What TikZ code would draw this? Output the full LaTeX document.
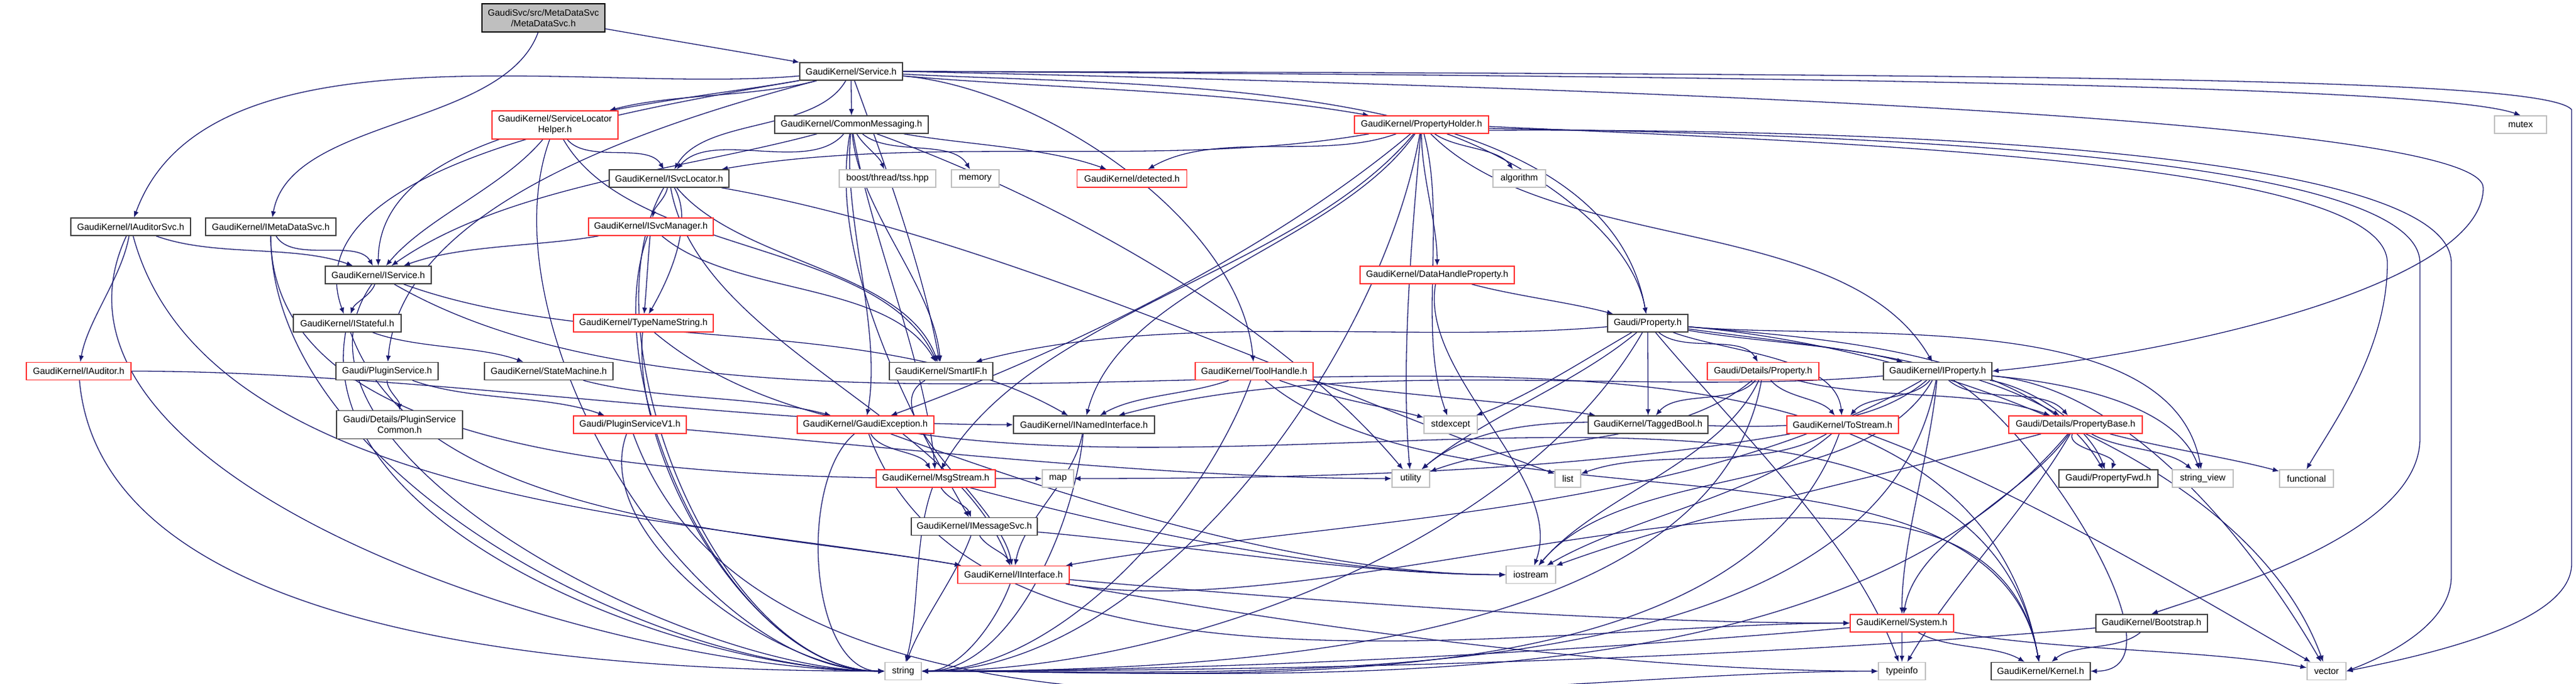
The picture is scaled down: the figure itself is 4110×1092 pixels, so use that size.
\documentclass[tikz,border=0pt]{standalone}
\usepackage{fontspec}
\setmainfont{Liberation Sans}
\usetikzlibrary{arrows.meta,backgrounds}

\definecolor{edgeblue}{RGB}{25,25,112}
\definecolor{boxgray}{RGB}{64,64,64}
\definecolor{boxred}{RGB}{255,48,48}
\definecolor{sysgray}{RGB}{191,191,191}

\tikzset{
    box/.style={draw, fill=white, line width=0.3pt, inner sep=0pt,
        minimum height=5.6pt, align=center,
        font=\fontsize{2.9}{3.44}\selectfont},
    hdr/.style={box, draw=boxgray},
    redhdr/.style={box, draw=boxred},
    sys/.style={box, draw=sysgray},
    mainfile/.style={box, draw=black, fill=sysgray, minimum height=9pt},
    twoline/.style={minimum height=9pt},
    dep/.style={draw=edgeblue, line width=0.26pt,
        -{Latex[length=2pt,width=1.6pt]}, looseness=0.8},
}

\begin{document}
\begin{tikzpicture}[x=0.2pt,y=0.2pt]
    \useasboundingbox (0,0) rectangle (4110,-1092);

    % file and its headers
    \node[mainfile, minimum width=39.2pt] (top) at (867,-28.5) {GaudiSvc/src/MetaDataSvc\\/MetaDataSvc.h};
    \node[hdr, minimum width=32.8pt] (svc) at (1358,-114) {GaudiKernel/Service.h};
    \node[redhdr, twoline, minimum width=40.2pt] (slh) at (885.5,-199.5) {GaudiKernel/ServiceLocator\\Helper.h};
    \node[hdr, minimum width=49pt] (commsg) at (1358.5,-199) {GaudiKernel/CommonMessaging.h};
    \node[redhdr, minimum width=42.8pt] (propholder) at (2268,-199) {GaudiKernel/PropertyHolder.h};
    \node[sys, minimum width=16.6pt] (mutex) at (4021.5,-199) {mutex};

    \node[hdr, minimum width=38.2pt] (isvcloc) at (1067.5,-285) {GaudiKernel/ISvcLocator.h};
    \node[sys, minimum width=30.8pt] (boosttss) at (1416,-285) {boost/thread/tss.hpp};
    \node[sys, minimum width=15.2pt] (memory) at (1556,-285) {memory};
    \node[redhdr, minimum width=35pt] (detected) at (1806,-285) {GaudiKernel/detected.h};
    \node[sys, minimum width=16.8pt] (algorithm) at (2424,-285) {algorithm};

    \node[hdr, minimum width=38.2pt] (iaudsvc) at (208.5,-362) {GaudiKernel/IAuditorSvc.h};
    \node[hdr, minimum width=41.6pt] (imds) at (432,-362) {GaudiKernel/IMetaDataSvc.h};
    \node[redhdr, minimum width=39.8pt] (isvcmgr) at (1038.5,-362) {GaudiKernel/ISvcManager.h};

    \node[hdr, minimum width=33.8pt] (iservice) at (603.5,-439) {GaudiKernel/IService.h};
    \node[redhdr, minimum width=49.2pt] (dhprop) at (2293,-439) {GaudiKernel/DataHandleProperty.h};

    \node[hdr, minimum width=34.4pt] (istateful) at (554,-516) {GaudiKernel/IStateful.h};
    \node[redhdr, minimum width=44.6pt] (typename) at (1026.5,-516) {GaudiKernel/TypeNameString.h};
    \node[hdr, minimum width=25.6pt] (property) at (2629,-516) {Gaudi/Property.h};

    \node[redhdr, minimum width=33.4pt] (iauditor) at (125.5,-592.5) {GaudiKernel/IAuditor.h};
    \node[hdr, minimum width=32.6pt] (plugsvc) at (617.5,-592.5) {Gaudi/PluginService.h};
    \node[hdr, minimum width=41pt] (statemach) at (875.5,-592.5) {GaudiKernel/StateMachine.h};
    \node[hdr, minimum width=33pt] (smartif) at (1501.5,-592.5) {GaudiKernel/SmartIF.h};
    \node[redhdr, minimum width=37.6pt] (toolhandle) at (2001,-592.5) {GaudiKernel/ToolHandle.h};
    \node[redhdr, minimum width=35.6pt] (detprop) at (2813,-592.5) {Gaudi/Details/Property.h};
    \node[hdr, minimum width=34.6pt] (iproperty) at (3091.5,-592.5) {GaudiKernel/IProperty.h};

    \node[hdr, twoline, minimum width=40.2pt] (plugcommon) at (637.5,-678) {Gaudi/Details/PluginService\\Common.h};
    \node[redhdr, minimum width=36pt] (plugv1) at (1005,-678) {Gaudi/PluginServiceV1.h};
    \node[redhdr, minimum width=43.6pt] (gexc) at (1380.75,-678) {GaudiKernel/GaudiException.h};
    \node[hdr, minimum width=45pt] (inamed) at (1729.5,-678) {GaudiKernel/INamedInterface.h};
    \node[sys, minimum width=17pt] (stdexcept) at (2314.5,-678) {stdexcept};
    \node[hdr, minimum width=38.2pt] (taggedbool) at (2629.5,-678) {GaudiKernel/TaggedBool.h};
    \node[redhdr, minimum width=35.6pt] (tostream) at (2939.75,-678) {GaudiKernel/ToStream.h};
    \node[redhdr, minimum width=42.6pt] (propbase) at (3311.5,-678) {Gaudi/Details/PropertyBase.h};

    \node[redhdr, minimum width=38pt] (msgstream) at (1493,-764) {GaudiKernel/MsgStream.h};
    \node[sys, minimum width=10pt] (map) at (1688,-764) {map};
    \node[sys, minimum width=12pt] (utility) at (2250.75,-764) {utility};
    \node[sys, minimum width=8.2pt] (list) at (2501.5,-764) {list};
    \node[hdr, minimum width=31.6pt] (propfwd) at (3363.75,-764) {Gaudi/PropertyFwd.h};
    \node[sys, minimum width=19.4pt] (stringview) at (3514.5,-764) {string\_view};
    \node[sys, minimum width=17.2pt] (functional) at (3680,-764) {functional};

    \node[hdr, minimum width=40.2pt] (imsgsvc) at (1554.5,-840.5) {GaudiKernel/IMessageSvc.h};
    \node[redhdr, minimum width=35.6pt] (iinterface) at (1617,-917.5) {GaudiKernel/IInterface.h};
    \node[sys, minimum width=15.8pt] (iostream) at (2442.5,-917.5) {iostream};

    \node[redhdr, minimum width=33pt] (system) at (3034.5,-994.75) {GaudiKernel/System.h};
    \node[hdr, minimum width=35.6pt] (bootstrap) at (3432.75,-994.75) {GaudiKernel/Bootstrap.h};

    \node[sys, minimum width=11.6pt] (string) at (1441,-1071.5) {string};
    \node[sys, minimum width=15pt] (typeinfo) at (3034.5,-1071.5) {typeinfo};
    \node[hdr, minimum width=31.6pt] (kernel) at (3255.75,-1071.5) {GaudiKernel/Kernel.h};
    \node[sys, minimum width=12.4pt] (vector) at (3712,-1071.5) {vector};

    \begin{scope}[on background layer]
    % includes of the file itself
    \draw[dep] (top) to[out=-10,in=170] (svc);
    \draw[dep] (top) to[out=-110,in=80] (imds);

    % Service.h
    \foreach \t/\o/\i in {iaudsvc/185/70, iservice/190/90, istateful/190/110,
        plugsvc/195/85, slh/-165/15, isvcloc/-120/60, commsg/-90/90,
        smartif/-70/100, propholder/-5/170, toolhandle/-5/95, property/-3/100}
        \draw[dep] (svc) to[out=\o,in=\i] (\t);
    \draw[dep] (svc.east) .. controls (2600,-140) and (3962,-190) .. (3962,-300)
        .. controls (3962,-450) and (3500,-560) .. (iproperty.east);
    \draw[dep] (svc.east) .. controls (3000,-122) and (3900,-140) .. (mutex.north);
    \draw[dep] (svc.east) .. controls (3300,-118) and (4060,-125) .. (4103,-175)
        -- (4103,-900) .. controls (4103,-990) and (3900,-1040) .. (vector.east);

    % interfaces
    \foreach \t/\o/\i in {iservice/-60/120, map/-90/180, string/-90/180}
        \draw[dep] (imds) to[out=\o,in=\i] (\t);
    \foreach \t/\o/\i in {iauditor/-100/80, iservice/-20/160, string/-115/180, iinterface/-75/170}
        \draw[dep] (iaudsvc) to[out=\o,in=\i] (\t);
    \foreach \t/\o/\i in {inamed/0/180, string/-85/180}
        \draw[dep] (iauditor) to[out=\o,in=\i] (\t);
    \foreach \t/\o/\i in {istateful/-110/70, inamed/-20/150, string/-125/180, kernel/-30/100}
        \draw[dep] (iservice) to[out=\o,in=\i] (\t);
    \foreach \t/\o/\i in {statemach/-20/160, iinterface/-70/170, string/-100/180}
        \draw[dep] (istateful) to[out=\o,in=\i] (\t);

    % plugin service
    \foreach \t/\o/\i in {plugcommon/-90/90, plugv1/-20/160}
        \draw[dep] (plugsvc) to[out=\o,in=\i] (\t);
    \foreach \t/\o/\i in {string/-110/180, utility/-5/180, typeinfo/-70/180}
        \draw[dep] (plugv1) to[out=\o,in=\i] (\t);
    \draw[dep] (statemach) to[out=-15,in=165] (gexc);

    % locator and messaging
    \foreach \t/\o/\i in {iservice/-130/50, isvcloc/-50/120, smartif/-60/115, string/-110/180}
        \draw[dep] (slh) to[out=\o,in=\i] (\t);
    \foreach \t/\o/\i in {iservice/-165/35, isvcloc/-130/50, boosttss/-60/110,
        memory/-40/120, detected/-10/160, smartif/-85/95, msgstream/-80/95,
        imsgsvc/-100/120, gexc/-95/80, utility/-20/130}
        \draw[dep] (commsg) to[out=\o,in=\i] (\t);
    \foreach \t/\o/\i in {isvcmgr/-100/80, typename/-60/60, smartif/-50/110,
        iinterface/-80/110, list/-10/160, string/-120/180}
        \draw[dep] (isvcloc) to[out=\o,in=\i] (\t);
    \foreach \t/\o/\i in {iservice/-170/20, typename/-95/85, smartif/-40/120, string/-110/180}
        \draw[dep] (isvcmgr) to[out=\o,in=\i] (\t);
    \foreach \t/\o/\i in {string/-95/180, kernel/-40/100}
        \draw[dep] (typename) to[out=\o,in=\i] (\t);
    \draw[dep] (smartif) to[out=-150,in=100] (iinterface);
    \foreach \t/\o/\i in {msgstream/-60/120, string/-140/180, system/-70/180, iostream/-20/180}
        \draw[dep] (gexc) to[out=\o,in=\i] (\t);
    \foreach \t/\o/\i in {imsgsvc/-60/110, string/-110/75, iostream/-15/180}
        \draw[dep] (msgstream) to[out=\o,in=\i] (\t);
    \foreach \t/\o/\i in {iinterface/-60/110, string/-110/70, iostream/-5/180}
        \draw[dep] (imsgsvc) to[out=\o,in=\i] (\t);
    \foreach \t/\o/\i in {string/-110/0, kernel/-10/100, system/-5/180, typeinfo/-10/180}
        \draw[dep] (iinterface) to[out=\o,in=\i] (\t);
    \foreach \t/\o/\i in {iinterface/-100/80, string/-95/0}
        \draw[dep] (inamed) to[out=\o,in=\i] (\t);
    \foreach \t/\o/\i in {inamed/-160/30, stdexcept/-20/165, taggedbool/-10/170,
        string/-110/0, kernel/-40/100}
        \draw[dep] (toolhandle) to[out=\o,in=\i] (\t);

    % property holder
    \foreach \t/\o/\i in {isvcloc/190/10, detected/-160/30, algorithm/-35/125,
        dhprop/-90/90, property/-20/100, iproperty/-45/120, gexc/-140/20,
        msgstream/-130/60, inamed/-125/75, string/-100/0, utility/-95/95,
        stdexcept/-75/110}
        \draw[dep] (propholder) to[out=\o,in=\i] (\t);
    \draw[dep] ([yshift=-0.6pt]propholder.east) .. controls (3000,-230) and (3809,-260) .. (3809,-420)
        .. controls (3809,-560) and (3720,-680) .. (functional.north);
    \draw[dep] ([yshift=-1.2pt]propholder.east) .. controls (3000,-215) and (3861,-250) .. (3861,-420)
        -- (3861,-700) .. controls (3861,-850) and (3550,-940) .. (bootstrap.north);
    \draw[dep] ([yshift=-1.8pt]propholder.east) .. controls (3000,-205) and (3911,-240) .. (3911,-420)
        -- (3911,-920) .. controls (3911,-1000) and (3800,-1050) .. (vector.east);
    \foreach \t/\o/\i in {property/-15/165, iostream/-100/70}
        \draw[dep] (dhprop) to[out=\o,in=\i] (\t);

    % properties
    \foreach \t/\o/\i in {smartif/185/15, taggedbool/-90/90, detprop/-40/120,
        tostream/-20/95, iproperty/-10/165, propbase/-8/150, propfwd/-5/120,
        stringview/-5/100, vector/-5/110, string/-120/0, utility/-140/40,
        stdexcept/-150/20, typeinfo/-50/110}
        \draw[dep] (property) to[out=\o,in=\i] (\t);
    \foreach \t/\o/\i in {taggedbool/-130/50, tostream/-50/130, propbase/-15/160,
        string/-100/0, utility/-140/20, iostream/-115/50}
        \draw[dep] (detprop) to[out=\o,in=\i] (\t);
    \foreach \t/\o/\i in {inamed/185/15, tostream/-130/50, propbase/-40/130,
        propfwd/-10/110, iinterface/-150/10, utility/-140/40, string/-100/0,
        iostream/-120/50, system/-95/90, vector/-5/120, kernel/-30/0,
        stringview/-5/110}
        \draw[dep] (iproperty) to[out=\o,in=\i] (\t);
    \foreach \t/\o/\i in {map/-170/0, list/-150/20, iostream/-140/30,
        string/-110/0, vector/-20/150}
        \draw[dep] (tostream) to[out=\o,in=\i] (\t);
    \foreach \t/\o/\i in {propfwd/-110/70, stringview/-30/140, functional/-15/165,
        iostream/-165/20, string/-130/0, typeinfo/-120/60, system/-125/80}
        \draw[dep] (propbase) to[out=\o,in=\i] (\t);

    % system level
    \foreach \t/\o/\i in {typeinfo/-90/90, kernel/-30/150, string/-175/0, vector/-10/170}
        \draw[dep] (system) to[out=\o,in=\i] (\t);
    \foreach \t/\o/\i in {kernel/-140/40, string/185/0}
        \draw[dep] (bootstrap) to[out=\o,in=\i] (\t);
    \end{scope}
\end{tikzpicture}
\end{document}
